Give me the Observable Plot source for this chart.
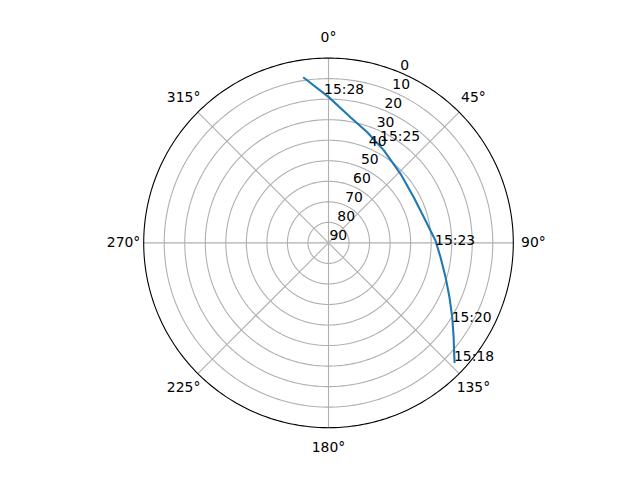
<!DOCTYPE html>
<html>
<head>
<meta charset="utf-8">
<script src="https://cdn.jsdelivr.net/npm/d3@7"></script>
<script src="https://cdn.jsdelivr.net/npm/@observablehq/plot@0.6"></script>
<style>
  html, body { margin: 0; padding: 0; background: white; }
</style>
</head>
<body>
<div id="chart"></div>
<script>
// Satellite track: azimuth (deg, clockwise from north) and elevation (deg)
const trackAz = [133.4, 131.4, 127.0, 121.0, 114.2, 106.3, 97.3, 88.7, 74.9, 61.8, 46.2, 30.9, 19.3, 9.9, 0.1, 351.5];
const trackEl = [5.5, 8.4, 13.7, 19.7, 25.4, 30.6, 35.0, 37.9, 41.9, 42.9, 41.4, 37.5, 32.9, 27.9, 19.0, 8.7];

// Time annotations
const labelTimes = ["15:18", "15:20", "15:23", "15:25", "15:28"];
const labelAz = [133.3, 122.8, 90.9, 26.9, 358.3];
const labelEl = [6.0, 18.65, 38.1, 34.5, 17.3];

// Axis ticks
const rTicks = [0, 10, 20, 30, 40, 50, 60, 70, 80, 90];
const thetaTicks = [0, 45, 90, 135, 180, 225, 270, 315];
const thetaLabels = ["0°", "45°", "90°", "135°", "180°", "225°", "270°", "315°"];

const track = trackAz.map((az, i) => ({az, el: trackEl[i]}));
const labels = labelTimes.map((t, i) => ({t, az: labelAz[i], el: labelEl[i]}));
const rLab = rTicks.map(el => ({el, az: 22.5, text: String(el)}));
const thLab = thetaTicks.map((az, i) => ({az, text: thetaLabels[i]}));
const ringGeo = rTicks.filter(d => d > 0 && d < 90).map(el => d3.geoCircle().center([0, 90]).radius(90 - el).precision(1)());
const outer = d3.geoCircle().center([0, 90]).radius(90).precision(1)();

// Polar (azimuth/elevation) projection: north at top, azimuth clockwise
const projection = d3.geoAzimuthalEquidistant()
  .rotate([0, -90])
  .reflectY(true)
  .fitExtent([[143.2, 57.6], [512.8, 427.2]], outer);

const chart = Plot.plot({
  width: 640,
  height: 480,
  margin: 0,
  projection,
  style: {fontFamily: "DejaVu Sans", fontSize: "13.9px", background: "white", color: "black"},
  marks: [
    Plot.geo(ringGeo, {fill: "none", stroke: "#b0b0b0", strokeWidth: 1.1}),
    Plot.link(thetaTicks, {x1: d => d, y1: 90, x2: d => d, y2: 0, stroke: "#b0b0b0", strokeWidth: 1.1}),
    Plot.geo([outer], {fill: "none", stroke: "black", strokeWidth: 1.1}),
    Plot.line(track, {x: "az", y: "el", stroke: "#1f77b4", strokeWidth: 2.08}),
    Plot.text(rLab, {x: "az", y: "el", text: "text", textAnchor: "start", dx: 1, dy: -7, fill: "black"}),
    Plot.text(thLab, {x: "az", y: -9.8, text: "text", textAnchor: "middle", fill: "black"}),
    Plot.text(labels, {x: "az", y: "el", text: "t", textAnchor: "start", lineAnchor: "bottom", fill: "black"})
  ]
});
document.getElementById("chart").appendChild(chart);
</script>
</body>
</html>
